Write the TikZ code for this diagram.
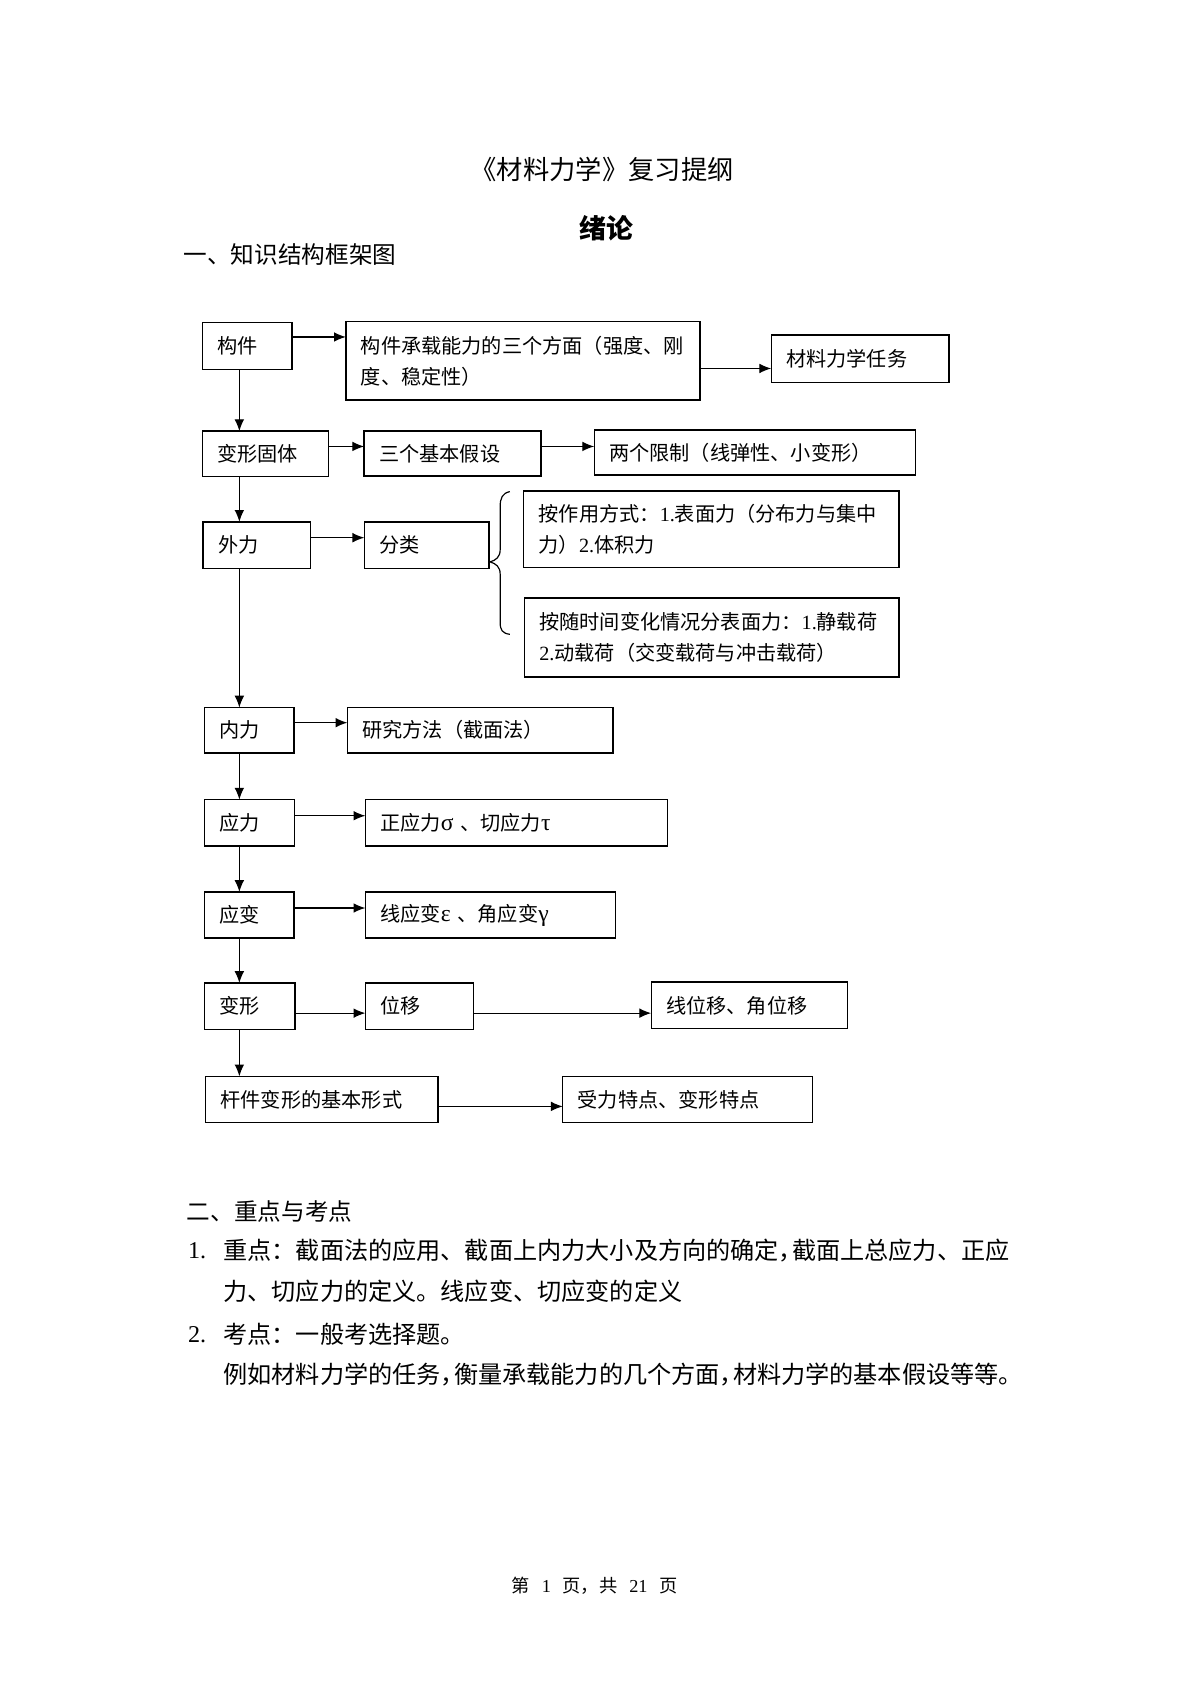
\documentclass[tikz,border=0pt]{standalone}
\usepackage{fontspec}
\setmainfont{Noto Sans CJK SC}
\newfontfamily\lat{Liberation Serif}
\usetikzlibrary{arrows.meta,calc}
\newcommand\fs[2]{\fontsize{#1pt}{#2pt}\selectfont}
\newcommand\hc{\kern-0.45em}
\newcommand\gk[1]{{\lat\fontsize{22pt}{29pt}\selectfont #1}}
\newcommand\mkbox[6]{%
  \pgfmathsetmacro\mybw{#4-#2}%
  \pgfmathsetmacro\mybh{#5-#3}%
  \pgfmathsetmacro\mytw{#4-#2-28}%
  \node[box, minimum width=\mybw pt, minimum height=\mybh pt, text width=\mytw pt] (#1) at (#2,#3) {#6};}
\tikzset{
  box/.style={draw, line width=1.3pt, anchor=north west, inner xsep=14pt, inner ysep=0pt,
    outer sep=0pt, align=left, font=\fs{18.8}{29}},
  arr/.style={line width=1.1pt, -{Latex[length=11pt,width=9pt]}},
  txt/.style={inner sep=0pt, anchor=west},
}
\begin{document}
\begin{tikzpicture}[x=1pt,y=-1pt]
\useasboundingbox[fill=white] (0,0) rectangle (1109,1568);

% headings
\node[inner sep=0pt, font=\fs{24.5}{30}] (title) at (561,158) {《材料力学》复习提纲};
\node[inner sep=0pt, font=\fs{25}{30}\bfseries] (xl) at (565,213) {绪论};
\node[txt, font=\fs{22}{28}] (s1) at (171,237) {一、知识结构框架图};

% boxes
\mkbox{gj}{188.6}{300.7}{272.2}{344.2}{构件}
\mkbox{cz}{322.2}{299.8}{652.3}{372.8}{构件承载能力的三个方面（强度、刚\\度、稳定性）}
\mkbox{rw}{718.5}{312.2}{884.2}{356.6}{材料力学任务}
\mkbox{bx}{188.6}{401.7}{306}{444.2}{变形固体}
\mkbox{jb}{339.3}{401.7}{503.9}{443.6}{三个基本假设}
\mkbox{xz}{553.6}{400.7}{852.8}{442.7}{两个限制（线弹性、小变形）}
\mkbox{wl}{189.2}{486.2}{289.5}{529.7}{外力}
\mkbox{fl}{339.4}{486.2}{455.4}{529.7}{分类}
\mkbox{zy}{487.9}{457.6}{837.5}{528.7}{按作用方式：{\lat 1.}表面力（分布力与集中\\力）{\lat 2.}体积力}
\mkbox{sjb}{488.5}{557}{837.5}{630.6}{按随时间变化情况分表面力：{\lat 1.}静载荷\\{\lat 2.}动载荷（交变载荷与冲击载荷）}
\mkbox{nl}{190.6}{659.2}{273.8}{701.4}{内力}
\mkbox{yf}{323.6}{659.2}{571.1}{701.4}{研究方法（截面法）}
\mkbox{yl}{190.6}{745}{274.6}{788}{应力}
\mkbox{zl}{340.4}{745}{622}{788}{正应力\gk{σ} 、切应力\gk{τ}}
\mkbox{yb}{190.6}{831}{274}{873.9}{应变}
\mkbox{xb}{340.4}{831}{573.4}{873.9}{线应变\gk{ε} 、角应变\gk{γ}}
\mkbox{bxg}{190.6}{915.8}{275}{959}{变形}
\mkbox{wy}{340.4}{915.8}{441}{959}{位移}
\mkbox{xw}{606.7}{915}{789.7}{958.3}{线位移、角位移}
\mkbox{gx}{191.5}{1002.8}{407.9}{1045.8}{杆件变形的基本形式}
\mkbox{sl}{524.3}{1002.8}{756.9}{1045.8}{受力特点、变形特点}

% spine
\coordinate (spine) at (223,0);
\draw[arr] (gj.south -| spine) -- (bx.north -| spine);
\draw[arr] (bx.south -| spine) -- (wl.north -| spine);
\draw[arr] (wl.south -| spine) -- (nl.north -| spine);
\draw[arr] (nl.south -| spine) -- (yl.north -| spine);
\draw[arr] (yl.south -| spine) -- (yb.north -| spine);
\draw[arr] (yb.south -| spine) -- (bxg.north -| spine);
\draw[arr] (bxg.south -| spine) -- (gx.north -| spine);

% horizontal arrows
\coordinate (h1) at ([yshift=8.5pt]gj.east);
\draw[arr] (h1) -- (h1 -| cz.west);
\coordinate (h2) at ([yshift=-7pt]cz.east);
\draw[arr] (h2) -- (h2 -| rw.west);
\coordinate (h3) at ([yshift=7pt]bx.east);
\draw[arr] (h3) -- (h3 -| jb.west);
\draw[arr] (h3 -| jb.east) -- (h3 -| xz.west);
\coordinate (h4) at ([yshift=7pt]wl.east);
\draw[arr] (h4) -- (h4 -| fl.west);
\coordinate (h5) at ([yshift=7pt]nl.east);
\draw[arr] (h5) -- (h5 -| yf.west);
\coordinate (h6) at ([yshift=6.5pt]yl.east);
\draw[arr] (h6) -- (h6 -| zl.west);
\coordinate (h7) at ([yshift=6.5pt]yb.east);
\draw[arr] (h7) -- (h7 -| xb.west);
\coordinate (h8) at ([yshift=-6.5pt]bxg.east);
\draw[arr] (h8) -- (h8 -| wy.west);
\draw[arr] (h8 -| wy.east) -- (h8 -| xw.west);
\coordinate (h9) at ([yshift=-6.5pt]gx.east);
\draw[arr] (h9) -- (h9 -| sl.west);

% brace
\draw[line width=1.1pt] (475,458) .. controls (468,459.5) and (466,464) .. (466,472)
  -- (466,512) .. controls (466,519) and (462,522) .. (456.5,523.5)
  .. controls (462,525) and (466,528) .. (466,535)
  -- (466,580) .. controls (466,587) and (468,590) .. (475,591);

% lower text
\node[txt, font=\fs{22}{28}] (s2) at (174,1129) {二、重点与考点};
\node[txt, font=\fs{22.5}{30}\lat] (n1) at (175,1165) {1.};
\node[txt, font=\fs{22.5}{30}] (l1) at (208,1165) {重点：截面法的应用、截面上内力大小及方向的确定，\hc 截面上总应力、正应};
\node[txt, font=\fs{22.5}{30}] (l2) at (208,1203) {力、切应力的定义。线应变、切应变的定义};
\node[txt, font=\fs{22.5}{30}\lat] (n2) at (175,1243) {2.};
\node[txt, font=\fs{22.5}{30}] (l3) at (208,1243) {考点：一般考选择题。};
\node[txt, font=\fs{22.5}{30}] (l4) at (208,1281) {例如材料力学的任务，\hc 衡量承载能力的几个方面，\hc 材料力学的基本假设等等。};

% footer
\node[inner sep=0pt, font=\fs{17}{20}] (ft) at (554,1477) {第\hspace{11pt}{\lat 1}\hspace{11pt}页，共\hspace{11pt}{\lat 21}\hspace{11pt}页};
\end{tikzpicture}
\end{document}
